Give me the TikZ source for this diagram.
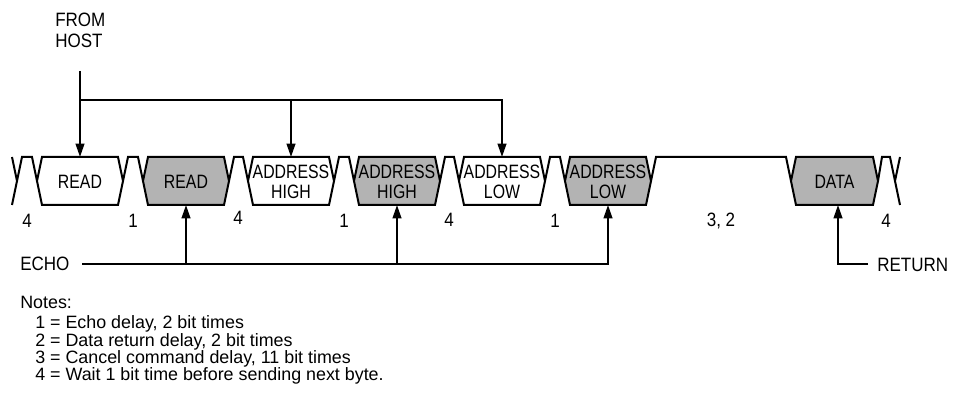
\documentclass[tikz,border=0pt]{standalone}
\usepackage{fontspec}
\setmainfont{Liberation Sans}
\newfontfamily\condfont[FakeStretch=0.88]{Liberation Sans}
\newfontfamily\boxfont[FakeStretch=0.82]{Liberation Sans}
\usetikzlibrary{arrows.meta,calc}
\definecolor{boxgray}{HTML}{B3B3B3}
\tikzset{
  wave/.style={line width=1.5pt, line join=miter},
  conn/.style={line width=1.5pt, -{Triangle[length=10pt,width=6.5pt]}},
  lbl/.style={inner sep=0pt, font=\condfont\fontsize{14.5pt}{16pt}\selectfont, align=center},
  boxlbl/.style={inner sep=0pt, font=\boxfont\fontsize{14.5pt}{15pt}\selectfont, align=center},
  note/.style={inner sep=0pt, anchor=base west, font=\fontsize{13.4pt}{13pt}\selectfont},
}
\newcommand\busbyte[5]{%
  \draw[wave,fill=#3] (#1,181) -- (#1+5,157) -- (#2-5,157) -- (#2,181) -- (#2-5,205) -- (#1+5,205) -- cycle;
  \node[boxlbl] (#4) at ({(#1+#2)/2},182) {#5};
  \coordinate (#4-n) at ({(#1+#2)/2},157);
  \coordinate (#4-s) at ({(#1+#2)/2},205);
}
\begin{document}
\begin{tikzpicture}[x=0.75pt,y=-0.75pt]
\path[fill=white,use as bounding box] (0,0) rectangle (961,398);

% waveform
\draw[wave] (12,157) -- (17,181) -- (12,205);
\draw[wave] (17,181) -- (22,157) -- (32,157) -- (37,181);
\busbyte{37}{123}{white}{rd1}{READ}
\draw[wave] (123,181) -- (128,157) -- (138,157) -- (143,181);
\busbyte{143}{229}{boxgray}{rd2}{READ}
\draw[wave] (229,181) -- (234,157) -- (243,157) -- (248,181);
\busbyte{248}{334}{white}{ah1}{ADDRESS\\HIGH}
\draw[wave] (334,181) -- (339,157) -- (349,157) -- (354,181);
\busbyte{354}{440}{boxgray}{ah2}{ADDRESS\\HIGH}
\draw[wave] (440,181) -- (445,157) -- (454,157) -- (459,181);
\busbyte{459}{545}{white}{al1}{ADDRESS\\LOW}
\draw[wave] (545,181) -- (550,157) -- (560,157) -- (565,181);
\busbyte{565}{651}{boxgray}{al2}{ADDRESS\\LOW}
\draw[wave] (651,181) -- (656,157) -- (786,157) -- (791,181);
\busbyte{791}{878}{boxgray}{dt}{DATA}
\draw[wave] (878,181) -- (882,157) -- (890,157) -- (895,181);
\draw[wave] (900,157) -- (895,181) -- (900,205);

% delay labels
\node[lbl] (d0) at (27,221) {4};
\node[lbl] (d1) at (133,221) {1};
\node[lbl] (d2) at (238,218) {4};
\node[lbl] (d3) at (344,221) {1};
\node[lbl] (d4) at (449,220) {4};
\node[lbl] (d5) at (555,221) {1};
\node[lbl] (d6) at (721,221) {3, 2};
\node[lbl] (d7) at (886,221) {4};

% from host
\node[lbl, anchor=north west, align=left, font=\condfont\fontsize{14.5pt}{15.75pt}\selectfont] (host) at (55,13) {FROM\\HOST};
\coordinate (hosttop) at (80,71);
\coordinate (hostj) at (80,100);
\draw[conn] (hosttop) -- (rd1-n);
\draw[conn] (hostj) -| (al1-n);
\draw[conn] (ah1-n |- hostj) -- (ah1-n);

% echo
\node[lbl, anchor=west] (echo) at (20,264) {ECHO};
\coordinate (echostart) at (82,264);
\draw[conn] (echostart) -| (al2-s);
\draw[conn] (rd2-s |- echostart) -- (rd2-s);
\draw[conn] (ah2-s |- echostart) -- (ah2-s);

% return
\node[lbl, anchor=west] (ret) at (877,265) {RETURN};
\coordinate (retstart) at (868,264);
\coordinate (dtin) at (838,205);
\draw[conn] (retstart) -| (dtin);

% notes
\node[note] (notes) at (20,308.5) {Notes:};
\node[note] (n1) at (35,329) {1 = Echo delay, 2 bit times};
\node[note] (n2) at (35,346.5) {2 = Data return delay, 2 bit times};
\node[note] (n3) at (35,363.8) {3 = Cancel command delay, 11 bit times};
\node[note] (n4) at (35,381) {4 = Wait 1 bit time before sending next byte.};
\end{tikzpicture}
\end{document}
